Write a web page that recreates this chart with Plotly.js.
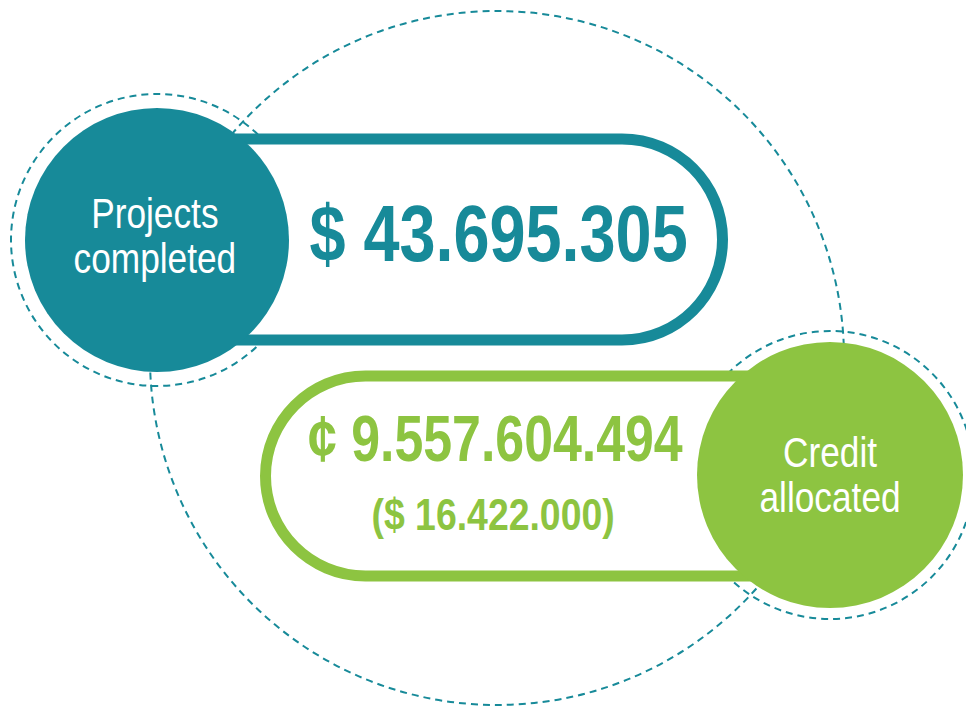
<!DOCTYPE html>
<html>
<head>
<meta charset="utf-8">
<script src="https://cdn.plot.ly/plotly-3.0.1.min.js"></script>
<style>html,body{margin:0;padding:0;background:#fff;}#chart{width:966px;height:711px;}</style>
</head>
<body>
<div id="chart"></div>
<script>
// ---- data ----
var categories = ['Projects completed', 'Credit allocated'];
var labelLines = [['Projects', 'completed'], ['Credit', 'allocated']];
var amounts = ['$ 43.695.305', '¢ 9.557.604.494'];
var subAmounts = ['', '($ 16.422.000)'];
var colors = ['#178A99', '#8DC441'];

// ---- geometry helpers ----
var K = 0.5523;
function pillRight(xl, cxr, yt, yb) {
  var r = (yb - yt) / 2, cy = (yt + yb) / 2, xr = cxr + r;
  return 'M' + xl + ',' + yt + ' L' + cxr + ',' + yt +
    ' C' + (cxr + K * r) + ',' + yt + ' ' + xr + ',' + (cy - K * r) + ' ' + xr + ',' + cy +
    ' C' + xr + ',' + (cy + K * r) + ' ' + (cxr + K * r) + ',' + yb + ' ' + cxr + ',' + yb +
    ' L' + xl + ',' + yb + ' Z';
}
function pillLeft(xr, cxl, yt, yb) {
  var r = (yb - yt) / 2, cy = (yt + yb) / 2, xl = cxl - r;
  return 'M' + xr + ',' + yt + ' L' + cxl + ',' + yt +
    ' C' + (cxl - K * r) + ',' + yt + ' ' + xl + ',' + (cy - K * r) + ' ' + xl + ',' + cy +
    ' C' + xl + ',' + (cy + K * r) + ' ' + (cxl - K * r) + ',' + yb + ' ' + cxl + ',' + yb +
    ' L' + xr + ',' + yb + ' Z';
}
function circ(cx, cy, r, style) {
  return Object.assign({type: 'circle', xref: 'x', yref: 'y', x0: cx - r, x1: cx + r, y0: cy - r, y1: cy + r}, style);
}
var dashLine = {color: colors[0], width: 2, dash: '7px,5px'};

var shapes = [
  circ(497, 358, 347, {line: dashLine, fillcolor: 'rgba(0,0,0,0)'}),
  circ(157, 240, 146, {line: dashLine, fillcolor: 'rgba(0,0,0,0)'}),
  circ(830, 475, 144, {line: dashLine, fillcolor: 'rgba(0,0,0,0)'}),
  {type: 'path', xref: 'x', yref: 'y', path: pillRight(160, 622, 139, 340), fillcolor: '#ffffff', line: {color: colors[0], width: 11}},
  {type: 'path', xref: 'x', yref: 'y', path: pillLeft(830, 365.5, 376, 576), fillcolor: '#ffffff', line: {color: colors[1], width: 11}},
  circ(157, 240, 132, {line: {width: 0}, fillcolor: colors[0]}),
  circ(830, 475, 133, {line: {width: 0}, fillcolor: colors[1]})
];

var labelFont = {family: '"Liberation Sans", Arial, sans-serif', size: 42, color: '#ffffff'};
var numFont = function (size, c) { return {family: '"Liberation Sans", Arial, sans-serif', size: size, color: c, weight: 'bold'}; };
function ann(x, y, text, font) {
  return {xref: 'x', yref: 'y', x: x, y: y, text: text, showarrow: false, xanchor: 'center', yanchor: 'middle', font: font};
}
var annotations = [
  ann(155, 213, labelLines[0][0], labelFont),
  ann(155, 258, labelLines[0][1], labelFont),
  ann(830, 452, labelLines[1][0], labelFont),
  ann(830, 497, labelLines[1][1], labelFont),
  ann(498, 233, amounts[0], numFont(80, colors[0])),
  ann(495, 439, amounts[1], numFont(64, colors[1])),
  ann(493, 514, subAmounts[1], numFont(44, colors[1]))
];
// horizontal condensing of each text (the original uses a narrow typeface)
var squeeze = [0.84, 0.84, 0.84, 0.84, 0.81, 0.81, 0.85];

var layout = {
  width: 966, height: 711,
  margin: {l: 0, r: 0, t: 0, b: 0},
  paper_bgcolor: '#ffffff', plot_bgcolor: '#ffffff',
  xaxis: {range: [0, 966], visible: false, fixedrange: true},
  yaxis: {range: [711, 0], visible: false, fixedrange: true},
  showlegend: false,
  shapes: shapes,
  annotations: annotations
};
Plotly.newPlot('chart', [], layout, {displayModeBar: false, staticPlot: true}).then(function (gd) {
  var texts = gd.querySelectorAll('.annotation-text');
  texts.forEach(function (t, i) {
    var s = squeeze[i] || 1;
    var bb = t.getBBox();
    var cx = bb.x + bb.width / 2;
    var prev = t.getAttribute('transform') || '';
    t.setAttribute('transform', 'translate(' + cx + ',0) scale(' + s + ',1) translate(' + (-cx) + ',0) ' + prev);
  });
});
</script>
</body>
</html>
